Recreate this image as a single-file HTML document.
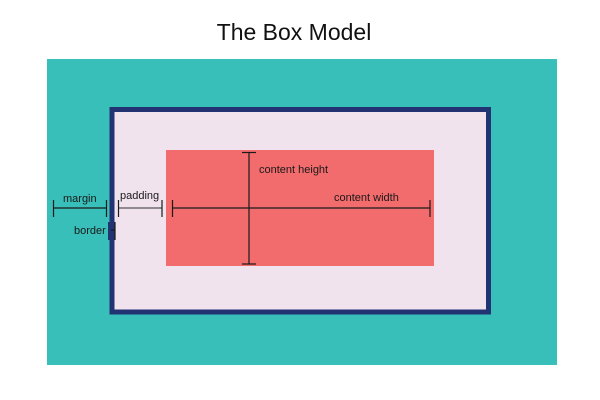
<!DOCTYPE html>
<html><head><style>
body{margin:0;background:#fff;}
</style></head><body>
<svg width="600" height="400" xmlns="http://www.w3.org/2000/svg" style="display:block">
<rect width="600" height="400" fill="#fff"/>
<text x="294" y="40" text-anchor="middle" font-family="Liberation Sans, sans-serif" font-size="23" fill="#111">The Box Model</text>
<rect x="47" y="59" width="510" height="306" fill="#38bfb9"/>
<rect x="112" y="109.5" width="376.5" height="202.5" fill="#f1e3ee" stroke="#213372" stroke-width="5"/>
<rect x="166" y="150" width="268" height="116" fill="#f26b6d"/>
<g stroke="#1a1a1a" stroke-width="1.2" fill="none">
<line x1="53" y1="208" x2="107" y2="208"/>
<line x1="53.5" y1="200" x2="53.5" y2="217"/>
<line x1="106.5" y1="200" x2="106.5" y2="217"/>
<line x1="118" y1="208" x2="162" y2="208" stroke="#555"/>
<line x1="118.5" y1="200" x2="118.5" y2="217"/>
<line x1="162" y1="200" x2="162" y2="217"/>
<line x1="172" y1="208" x2="430" y2="208"/>
<line x1="172.5" y1="200" x2="172.5" y2="217"/>
<line x1="430" y1="200" x2="430" y2="217"/>
<line x1="249" y1="152.5" x2="249" y2="264"/>
<line x1="242" y1="152.5" x2="256" y2="152.5"/>
<line x1="242" y1="264" x2="256" y2="264"/>
<line x1="109" y1="230" x2="115" y2="230"/>
<line x1="115" y1="222" x2="115" y2="240"/>
</g>
<rect x="108" y="222" width="3" height="18" fill="#213372"/>
<g font-family="Liberation Sans, sans-serif" font-size="11" fill="#1a1a1a">
<text x="63" y="202">margin</text>
<text x="120" y="199">padding</text>
<text x="74" y="234">border</text>
<text x="259" y="173">content height</text>
<text x="334" y="201">content width</text>
</g>
</svg>
</body></html>
